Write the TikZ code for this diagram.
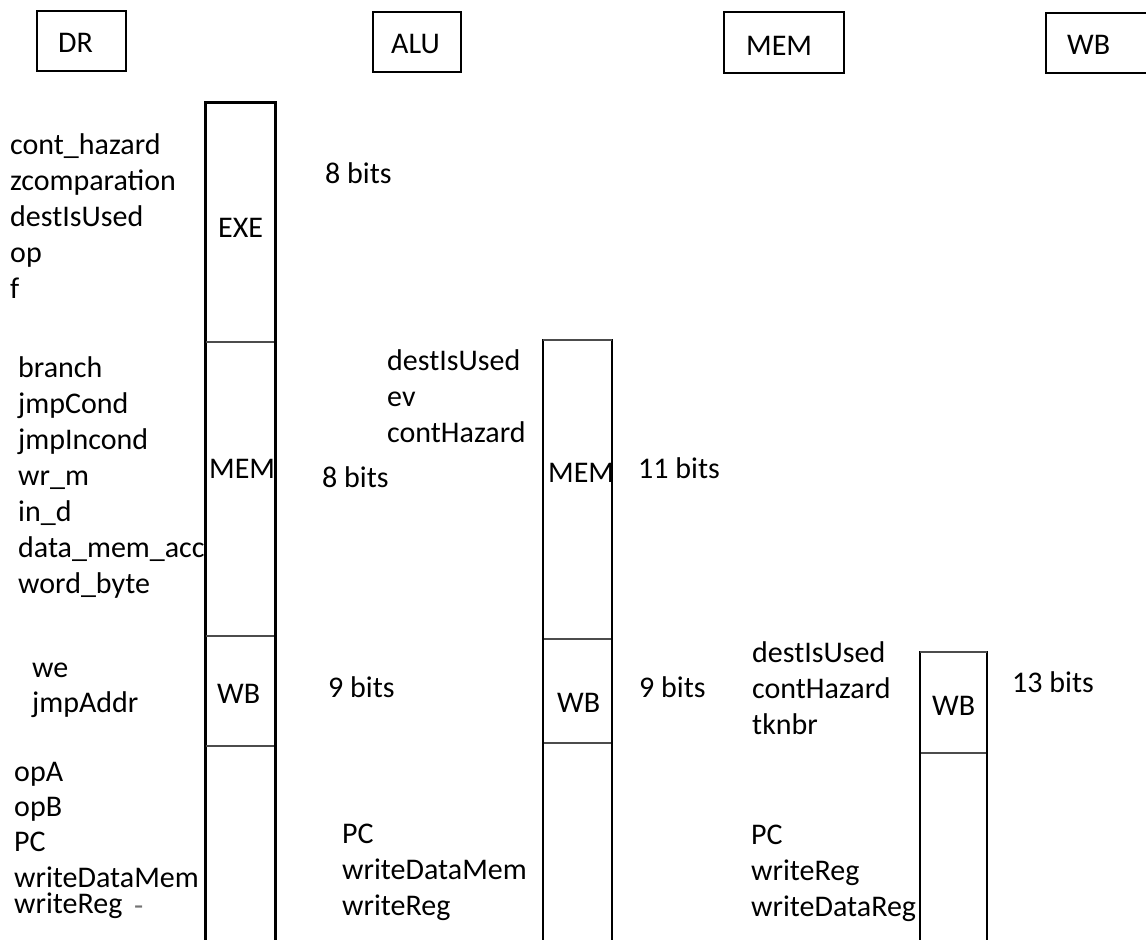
\documentclass[tikz,border=0pt]{standalone}
\usepackage{fontspec}
\setmainfont{Carlito}
\begin{document}
\begin{tikzpicture}[x=1bp,y=-1bp,
  lbl/.style={anchor=base west,inner sep=0pt,font=\fontsize{30bp}{36bp}\selectfont},
  stagebox/.style={draw,line width=1.5bp,inner sep=0pt},
  regthick/.style={draw,line width=3bp,fill=white},
  regthin/.style={draw,line width=1.6bp,fill=white},
  divider/.style={draw=black!70,line width=2.5bp},
  divthin/.style={draw=black!70,line width=2bp}]
\useasboundingbox (0,0) rectangle (1146,940);
\clip (0,0) rectangle (1146,940);
\fill[white] (0,0) rectangle (1146,940);

% pipeline stage headers
\node[stagebox,minimum width=89bp,minimum height=60bp] (hdr) at (81.5,41) {};
\node[stagebox,minimum width=88bp,minimum height=60bp] (halu) at (417,42) {};
\node[stagebox,minimum width=120bp,minimum height=61bp] (hmem) at (784,42.5) {};
\node[stagebox,minimum width=120bp,minimum height=60bp] (hwb) at (1106,43) {};
\node[lbl] (tdr) at (58,52) {DR};
\node[lbl] (talu) at (391,53) {ALU};
\node[lbl] (tmem) at (746,55) {MEM};
\node[lbl] (twb) at (1067,54) {WB};

% DR stage signals
\node[lbl] (s1) at (10,154) {cont\_hazard};
\node[lbl] (s2) at (10,190) {zcomparation};
\node[lbl] (s3) at (10,226) {destIsUsed};
\node[lbl] (s4) at (10,262) {op};
\node[lbl] (s5) at (10,298) {f};

\node[lbl] (m1) at (18,377) {branch};
\node[lbl] (m2) at (18,413) {jmpCond};
\node[lbl] (m3) at (18,449) {jmpIncond};
\node[lbl] (m4) at (18,485) {wr\_m};
\node[lbl] (m5) at (18,521) {in\_d};
\node[lbl] (m6) at (18,557) {data\_mem\_acc};
\node[lbl] (m7) at (18,593) {word\_byte};

\node[lbl] (w1) at (32,677) {we};
\node[lbl] (w2) at (32,712) {jmpAddr};

\node[lbl] (d1) at (14,781) {opA};
\node[lbl] (d2) at (14,816) {opB};
\node[lbl] (d3) at (14,851) {PC};
\node[lbl] (d4) at (14,887) {writeDataMem};
\node[lbl] (d5) at (14,913) {writeReg};
\node[lbl,text=black!55] (d6) at (134,915) {-};

% DR/ALU register
\path[regthick] (205,102) rectangle (275,960);
\draw[divider] (206,342) -- (274,342);
\draw[divider] (206,636) -- (274,636);
\draw[divider] (206,746) -- (274,746);
\node[lbl] (r1exe) at (218,237) {EXE};
\node[lbl] (r1mem) at (209,478) {MEM};
\node[lbl] (r1wb) at (217,703) {WB};

% ALU stage
\node[lbl] (b1) at (325,183) {8 bits};
\node[lbl] (a1) at (387,370) {destIsUsed};
\node[lbl] (a2) at (387,406) {ev};
\node[lbl] (a3) at (387,442) {contHazard};
\node[lbl] (b2) at (322,487) {8 bits};
\node[lbl] (b3) at (328,697) {9 bits};
\node[lbl] (a4) at (342,843) {PC};
\node[lbl] (a5) at (342,879) {writeDataMem};
\node[lbl] (a6) at (342,915) {writeReg};

% ALU/MEM register
\path[regthin] (543,340) rectangle (612,960);
\draw[divthin] (543,340) -- (612,340);
\draw[divthin] (544,639) -- (611,639);
\draw[divthin] (544,743) -- (611,743);
\node[lbl] (r2mem) at (548,482) {MEM};
\node[lbl] (r2wb) at (557,712) {WB};

% MEM stage
\node[lbl] (b4) at (638,478) {11 bits};
\node[lbl] (b5) at (639,697) {9 bits};
\node[lbl] (c1) at (752,662) {destIsUsed};
\node[lbl] (c2) at (752,698) {contHazard};
\node[lbl] (c3) at (752,734) {tknbr};
\node[lbl] (c4) at (751,844) {PC};
\node[lbl] (c5) at (751,880) {writeReg};
\node[lbl] (c6) at (751,916) {writeDataReg};

% MEM/WB register
\path[regthin] (920,652) rectangle (987,960);
\draw[divthin] (920,652) -- (987,652);
\draw[divthin] (921,753) -- (986,753);
\node[lbl] (r3wb) at (932,715) {WB};
\node[lbl] (b6) at (1012,692) {13 bits};
\end{tikzpicture}
\end{document}
